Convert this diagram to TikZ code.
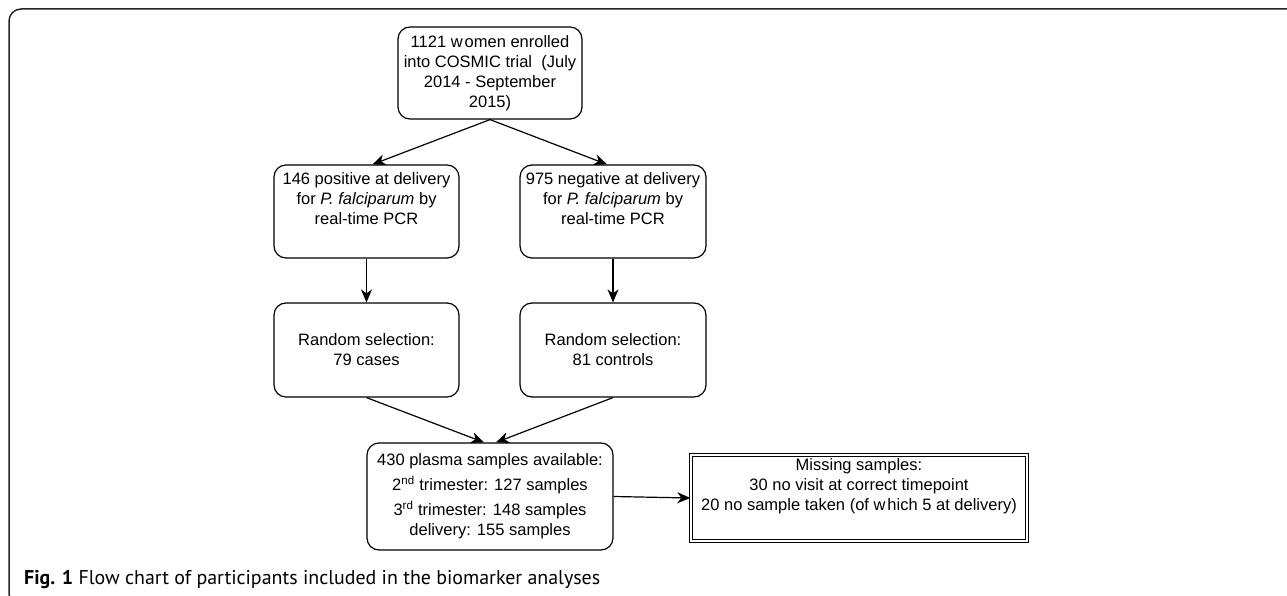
\documentclass[tikz,border=0pt]{standalone}
\usepackage{fontspec}
\usepackage{graphicx}
\setmainfont{Liberation Sans}
\newfontfamily\capfont{PT Sans}
\usetikzlibrary{arrows.meta}
\begin{document}
\begin{tikzpicture}[x=1pt,y=-1pt,
  box/.style={draw=black, line width=1.2pt, rounded corners=12pt, align=center, inner sep=0pt,
    font=\fontsize{16.5}{20}\selectfont},
  arr/.style={draw=black, line width=1.2pt, -{Stealth[length=13pt,width=11pt,inset=4pt]}},
]
\useasboundingbox (0,0) rectangle (1287,596);
\begin{scope}
\clip (0,0) rectangle (1287,596);
\draw[line width=1.5pt, draw=black!85, rounded corners=12pt] (1300,9) -- (9,9) -- (9,606) -- (1300,606);
\end{scope}

\node[box, minimum width=184pt, minimum height=92pt] (top) at (490,73)
  {1121 w\hspace{0.12em}omen enrolled\\into COSMIC trial\ \ (July\\2014 - September\\2015)};
\node[box, minimum width=185pt, minimum height=93pt] (pos) at (366.5,211.5)
  {146 positive at delivery\\for \textit{P. falciparum} by\\real-time PCR\\\strut};
\node[box, minimum width=186pt, minimum height=93pt] (neg) at (613,211.5)
  {975 negative at delivery\\for \textit{P. falciparum} by\\real-time PCR\\\strut};
\node[box, minimum width=185pt, minimum height=94pt] (rc) at (366.5,350)
  {Random selection:\\79 cases};
\node[box, minimum width=186pt, minimum height=94pt] (rn) at (613,350)
  {Random selection:\\81 controls};
\node[box, minimum width=246pt, minimum height=107pt] (pl) at (490,496.5)
  {430 plasma samples available:\\[5pt]2\textsuperscript{nd} trimester: 127 samples\\[5pt]3\textsuperscript{rd} trimester: 148 samples\\delivery: 155 samples};
\node[draw=black, double, double distance=2pt, line width=0.9pt, align=center, inner sep=0pt,
  font=\fontsize{16.5}{20}\selectfont, minimum width=336.4pt, minimum height=86.4pt] (ms) at (859,498)
  {Missing samples:\\30 no visit at correct timepoint\\20 no sample taken (of w\hspace{0.12em}hich 5 at delivery)\\\strut};

\draw[arr] (top.south) -- ([xshift=6pt]pos.north);
\draw[arr] (top.south) -- ([xshift=-6pt]neg.north);
\draw[arr] (pos.south) -- (rc.north);
\draw[arr] (neg.south) -- (rn.north);
\draw[arr] (rc.south) -- ([xshift=-6pt]pl.north);
\draw[arr] (rn.south) -- ([xshift=6pt]pl.north);
\draw[arr] (pl.east) -- (ms.west);

\node[anchor=base west, inner sep=0pt] (cap) at (24,584)
  {\resizebox{576pt}{!}{\capfont\fontsize{15}{18}\selectfont\textbf{Fig. 1} Flow chart of participants included in the biomarker analyses}};
\end{tikzpicture}
\end{document}
